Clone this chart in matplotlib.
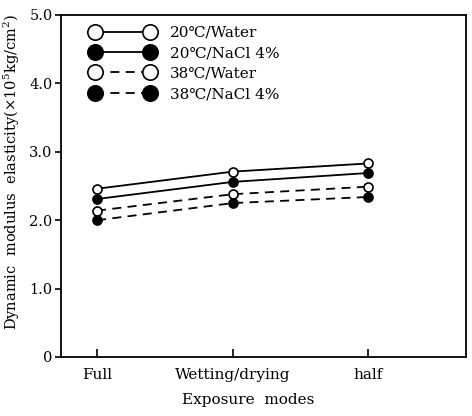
import matplotlib.pyplot as plt
import numpy as np

plt.rcParams['font.family'] = ['DejaVu Serif', 'DejaVu Sans', 'Noto Sans CJK SC']
plt.rcParams['mathtext.fontset'] = 'dejavuserif'

modes = ['Full', 'Wetting/drying', 'half']
water_20 = [2.46, 2.71, 2.83]
nacl_20 = [2.31, 2.56, 2.69]
water_38 = [2.14, 2.38, 2.49]
nacl_38 = [2.00, 2.25, 2.34]
labels = ['20\u2103/Water', '20\u2103/NaCl 4%', '38\u2103/Water', '38\u2103/NaCl 4%']
yticks = [0, 1.0, 2.0, 3.0, 4.0, 5.0]
yticklabels = ['0', '1.0', '2.0', '3.0', '4.0', '5.0']


def main():
    fig = plt.figure(figsize=(4.72, 4.16), dpi=100)
    ax = fig.add_axes([61 / 472, 59 / 416, 405 / 472, 342 / 416])

    x = np.arange(len(modes))
    series = [
        (water_20, '-', 'white'),
        (nacl_20, '-', 'black'),
        (water_38, (0, (5, 3.5)), 'white'),
        (nacl_38, (0, (5, 3.5)), 'black'),
    ]
    for (vals, ls, fc), lab in zip(series, labels):
        ax.plot(x, vals, linestyle=ls, color='black', linewidth=1.3,
                marker='o', markersize=6.5, markerfacecolor=fc,
                markeredgecolor='black', markeredgewidth=1.2, label=lab)

    ax.set_xlim(-0.266, 2.72)
    ax.set_ylim(0, 5.0)
    ax.set_xticks(x)
    ax.set_xticklabels(modes, fontsize=11)
    ax.set_yticks(yticks)
    ax.set_yticklabels(yticklabels, fontsize=10.5)
    ax.tick_params(axis='x', direction='in', length=6, width=1.2, pad=8)
    ax.tick_params(axis='y', direction='out', length=4, width=1.2, pad=2)
    for sp in ax.spines.values():
        sp.set_linewidth(1.3)

    ax.set_xlabel('Exposure  modes', fontsize=11)
    ax.xaxis.set_label_coords(0.463, -0.105)
    ax.set_ylabel(r'Dynamic  modulus  elasticity($\times$10$^5$kg/cm$^2$)',
                  fontsize=10.5)
    ax.yaxis.set_label_coords(-0.096, 0.54)

    ax.legend(loc='upper left', bbox_to_anchor=(0.073, 0.968), frameon=False,
              numpoints=2, handlelength=4.2, handletextpad=1.0,
              labelspacing=0.42, borderpad=0, borderaxespad=0,
              markerscale=1.7, fontsize=11)

    plt.savefig('out.png')
    plt.close()


main()
